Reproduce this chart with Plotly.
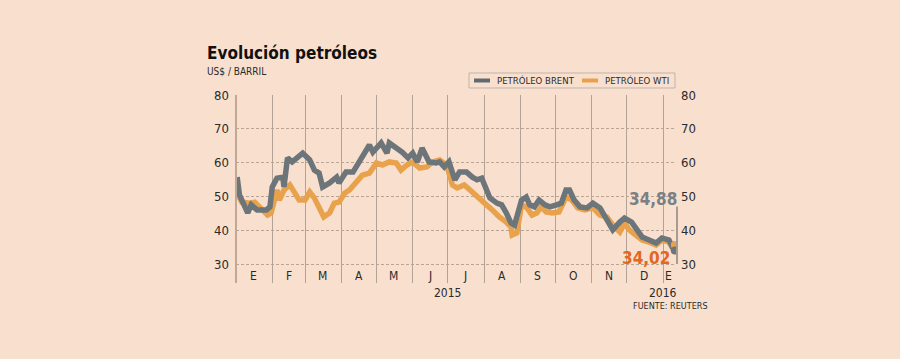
import plotly.graph_objects as go

# ---------------- data ----------------
brent_dates = ["2015-01-02","2015-01-04","2015-01-11","2015-01-14","2015-01-19","2015-01-27","2015-01-30",
               "2015-02-01","2015-02-05","2015-02-10","2015-02-11","2015-02-14","2015-02-18","2015-02-22","2015-02-27",
               "2015-03-05","2015-03-09","2015-03-13","2015-03-16","2015-03-22","2015-03-28","2015-03-30",
               "2015-04-05","2015-04-11","2015-04-18","2015-04-25","2015-04-28",
               "2015-05-05","2015-05-10","2015-05-12","2015-05-18","2015-05-23","2015-05-28",
               "2015-06-01","2015-06-05","2015-06-09","2015-06-15","2015-06-21","2015-06-24","2015-06-28",
               "2015-07-02","2015-07-07","2015-07-11","2015-07-17","2015-07-22","2015-07-26","2015-07-30",
               "2015-08-01","2015-08-06","2015-08-12","2015-08-16","2015-08-20","2015-08-24","2015-08-27","2015-08-30",
               "2015-09-02","2015-09-06","2015-09-09","2015-09-13","2015-09-17","2015-09-22","2015-09-26",
               "2015-10-02","2015-10-06","2015-10-10","2015-10-13","2015-10-17","2015-10-22","2015-10-28",
               "2015-11-02","2015-11-08","2015-11-12","2015-11-16","2015-11-19","2015-11-25","2015-11-29",
               "2015-12-05","2015-12-09","2015-12-14","2015-12-20","2015-12-26","2015-12-31",
               "2016-01-06","2016-01-09","2016-01-11"]
brent = [55.7,50.4,45.1,47.5,46.0,46.0,46.9,
         52.8,55.4,55.7,52.8,61.4,60.2,61.4,62.8,
         60.8,57.8,56.9,52.8,54.0,55.7,54.0,
         57.2,57.2,61.4,65.2,63.1,
         65.8,62.8,65.8,64.3,63.1,61.4,
         62.8,60.2,64.3,60.2,59.9,60.2,58.7,
         60.2,54.9,57.2,57.2,55.7,54.9,55.4,
         53.4,49.5,48.0,47.5,45.1,42.1,41.5,46.0,
         48.9,49.8,47.5,46.9,48.9,47.5,46.9,
         47.5,48.0,51.9,51.9,48.9,46.9,46.6,
         48.0,46.6,44.5,42.4,40.1,42.4,43.6,
         42.4,40.1,38.0,37.1,36.2,37.7,
         37.1,35.0,34.6]

wti_dates = ["2015-01-02","2015-01-06","2015-01-13","2015-01-17","2015-01-21","2015-01-28","2015-01-31",
             "2015-02-05","2015-02-07","2015-02-11","2015-02-16","2015-02-20","2015-02-24",
             "2015-03-01","2015-03-05","2015-03-09","2015-03-13","2015-03-17","2015-03-22","2015-03-26","2015-03-30",
             "2015-04-04","2015-04-08","2015-04-14","2015-04-19","2015-04-25",
             "2015-05-01","2015-05-06","2015-05-12","2015-05-18","2015-05-22","2015-05-27",
             "2015-06-01","2015-06-07","2015-06-13","2015-06-18","2015-06-24","2015-06-30",
             "2015-07-05","2015-07-09","2015-07-15","2015-07-20","2015-07-26","2015-07-30",
             "2015-08-03","2015-08-08","2015-08-14","2015-08-20","2015-08-24","2015-08-25","2015-08-29",
             "2015-09-02","2015-09-06","2015-09-11","2015-09-15","2015-09-19","2015-09-23","2015-09-28",
             "2015-10-04","2015-10-10","2015-10-15","2015-10-20","2015-10-26",
             "2015-11-02","2015-11-08","2015-11-14","2015-11-19","2015-11-25","2015-11-29",
             "2015-12-03","2015-12-09","2015-12-14","2015-12-20","2015-12-26","2015-12-31",
             "2016-01-06","2016-01-09","2016-01-11"]
wti = [51.0,48.3,48.0,48.3,46.9,44.5,45.1,
       51.9,48.9,51.9,53.4,51.0,48.9,
       48.9,51.3,49.5,46.9,43.9,45.1,48.0,48.3,
       51.0,51.9,54.0,56.3,56.9,
       59.9,59.3,60.2,59.9,57.8,59.3,
       60.2,58.4,58.7,60.2,60.8,59.3,
       53.4,52.5,53.4,51.9,49.8,48.9,
       47.5,46.0,43.9,42.4,40.9,38.6,39.2,
       47.5,46.9,44.5,45.1,46.9,45.4,45.1,
       45.4,49.8,48.9,46.6,46.0,
       46.6,44.5,43.9,41.5,39.5,42.1,
       40.1,38.6,37.1,36.5,35.6,37.1,
       36.5,34.7,35.6]

month_labels = ["E","F","M","A","M","J","J","A","S","O","N","D","E"]
month_mid = ["2015-01-16","2015-02-15","2015-03-16","2015-04-16","2015-05-16","2015-06-16",
             "2015-07-16","2015-08-16","2015-09-16","2015-10-16","2015-11-16","2015-12-16","2016-01-06"]
y_ticks = [30, 40, 50, 60, 70, 80]
last_brent_label = "34,88"
last_wti_label = "34,02"

# ---------------- styling ----------------
BG = "#F9E0CE"
GRAY = "#6C757A"
ORANGE = "#E9A24C"
RED = "#E2671F"
TXT = "#2a2a2a"
FONT = "DejaVu Sans Condensed, DejaVu Sans, sans-serif"

W, H = 900, 359
L, R, T, B = 236, 676, 95, 283  # plot area in pixels


def px(x):
    return (x - L) / (R - L)


def py(y):
    return (B - y) / (B - T)


fig = go.Figure()
fig.add_trace(go.Scatter(x=wti_dates, y=wti, mode="lines", line=dict(color=ORANGE, width=5.5),
                         showlegend=False, hoverinfo="skip"))
fig.add_trace(go.Scatter(x=brent_dates, y=brent, mode="lines", line=dict(color=GRAY, width=5.5),
                         showlegend=False, hoverinfo="skip"))
# end markers
fig.add_trace(go.Scatter(x=[wti_dates[-1]], y=[wti[-1]], mode="markers",
                         marker=dict(color=ORANGE, size=8), showlegend=False, hoverinfo="skip"))
fig.add_trace(go.Scatter(x=[brent_dates[-1]], y=[brent[-1] - 0.6], mode="markers",
                         marker=dict(color=GRAY, size=8), showlegend=False, hoverinfo="skip"))
# invisible trace for right axis
fig.add_trace(go.Scatter(x=[brent_dates[0]], y=[50], yaxis="y2", mode="markers",
                         marker=dict(opacity=0), showlegend=False, hoverinfo="skip"))

yrange = [30 - (B - 264) / 3.38, 80]

fig.update_layout(
    width=W, height=H,
    paper_bgcolor=BG, plot_bgcolor=BG,
    margin=dict(l=L, r=W - R, t=T, b=H - B, pad=0),
    font=dict(family=FONT, color=TXT, size=12),
    xaxis=dict(type="date", range=["2015-01-01", "2016-01-12"],
               showgrid=True, gridcolor="#B3A397", gridwidth=1,
               tick0="2015-01-01", dtick="M1", showticklabels=False, ticks="",
               showline=False, zeroline=False),
    yaxis=dict(range=yrange, tickvals=y_ticks, showgrid=True, gridcolor="#B8A596",
               griddash="3px,2px", gridwidth=1, showline=False, zeroline=False,
               ticks="", tickfont=dict(size=13, color=TXT), ticklabelstandoff=6),
    yaxis2=dict(range=yrange, tickvals=y_ticks, overlaying="y", side="right",
                showgrid=False, showline=False, zeroline=False, ticks="",
                tickfont=dict(size=13, color=TXT), ticklabelstandoff=4),
)

shapes = []
# left axis line
shapes.append(dict(type="line", xref="paper", yref="paper", x0=0, x1=0, y0=0, y1=1,
                   line=dict(color="#BFA894", width=2)))
# pointer line at end
shapes.append(dict(type="line", xref="paper", yref="y", x0=px(677), x1=px(677), y0=30, y1=47,
                   line=dict(color="#555555", width=1)))
# legend box
shapes.append(dict(type="rect", xref="paper", yref="paper", x0=px(469), x1=px(675), y0=py(88), y1=py(73),
                   line=dict(color="#BDB3AB", width=1)))
shapes.append(dict(type="line", xref="paper", yref="paper", x0=px(474), x1=px(490), y0=py(80.5), y1=py(80.5),
                   line=dict(color="#5F6A72", width=4)))
shapes.append(dict(type="line", xref="paper", yref="paper", x0=px(582), x1=px(598), y0=py(80.5), y1=py(80.5),
                   line=dict(color=ORANGE, width=4)))
fig.update_layout(shapes=shapes)

ann = []
# title & subtitle
ann.append(dict(text="<b>Evolución petróleos</b>", xref="paper", yref="paper", x=px(205), y=py(53),
                xanchor="left", yanchor="middle", showarrow=False,
                font=dict(size=17, color="#111", family=FONT)))
ann.append(dict(text="US$ / BARRIL", xref="paper", yref="paper", x=px(205), y=py(71),
                xanchor="left", yanchor="middle", showarrow=False, font=dict(size=10, color=TXT)))
# legend texts
ann.append(dict(text="PETRÓLEO BRENT", xref="paper", yref="paper", x=px(495), y=py(80.5),
                xanchor="left", yanchor="middle", showarrow=False, font=dict(size=9.5, color=TXT)))
ann.append(dict(text="PETRÓLEO WTI", xref="paper", yref="paper", x=px(603), y=py(80.5),
                xanchor="left", yanchor="middle", showarrow=False, font=dict(size=9.5, color=TXT)))
# month labels
for lab, d in zip(month_labels, month_mid):
    ann.append(dict(text=lab, x=d, y=30 - 12 / 3.38, xref="x", yref="y", showarrow=False,
                    xanchor="center", yanchor="middle", font=dict(size=12, color=TXT)))
# years
ann.append(dict(text="2015", x="2015-07-01", y=py(293), xref="x", yref="paper", showarrow=False,
                xanchor="center", yanchor="middle", font=dict(size=12, color=TXT)))
ann.append(dict(text="2016", x="2016-01-01", y=py(293), xref="x", yref="paper", showarrow=False,
                xanchor="center", yanchor="middle", font=dict(size=12, color=TXT)))
ann.append(dict(text="FUENTE: REUTERS", x=px(710), y=py(306), xref="paper", yref="paper", showarrow=False,
                xanchor="right", yanchor="middle", font=dict(size=9, color=TXT)))
# last values
ann.append(dict(text="<b>" + last_brent_label + "</b>", x=px(653), y=py(199), xref="paper", yref="paper",
                showarrow=False, xanchor="center", yanchor="middle", font=dict(size=17, color="#7A8085")))
ann.append(dict(text="<b>" + last_wti_label + "</b>", x=px(646), y=py(258), xref="paper", yref="paper",
                showarrow=False, xanchor="center", yanchor="middle", borderpad=0,
                font=dict(size=17, color=RED)))
fig.update_layout(annotations=ann)

fig.write_html("out.html", config={"displayModeBar": False},
               post_script="document.body.style.margin='0';")
